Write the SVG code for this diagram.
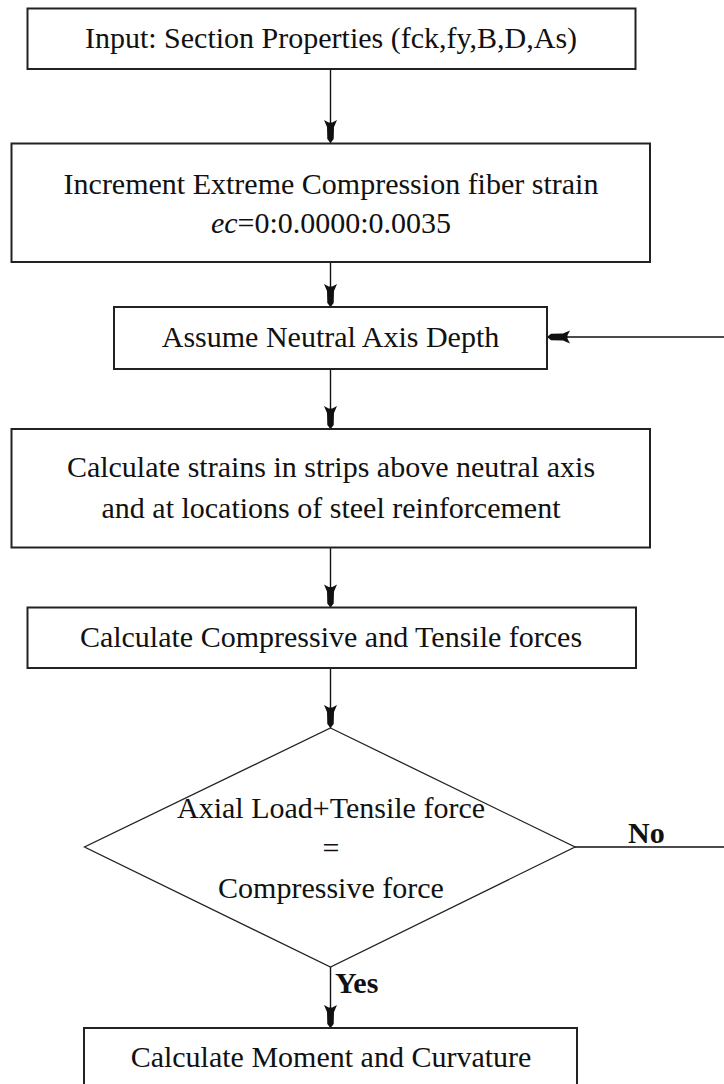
<svg xmlns="http://www.w3.org/2000/svg" width="724" height="1084" viewBox="0 0 724 1084">
<style>
.box{fill:#fff;stroke:#222;stroke-width:2}
.dia{fill:#fff;stroke:#222;stroke-width:1.3}
.t{font-family:"Liberation Serif","Times New Roman",serif;font-size:30px;fill:#111;text-anchor:middle}
.lbl{font-family:"Liberation Serif","Times New Roman",serif;font-size:30px;font-weight:bold;fill:#111}
.c{fill:none;stroke:#111;stroke-width:1.4}
</style>
<defs>
<marker id="ah" markerUnits="userSpaceOnUse" viewBox="-24 -8 25 16" refX="0" refY="0" markerWidth="25" markerHeight="16" orient="auto">
<path d="M0,0 L-4,-3.2 L-16,-3.5 L-23,-6.5 L-20.5,-1.8 L-20.5,1.8 L-23,6.5 L-16,3.5 L-4,3.2 Z" fill="#111"/>
</marker>
</defs>
<rect width="724" height="1084" fill="#fff"/>
<g id="connectors">
<path class="c" d="M330.5,69 V143" marker-end="url(#ah)"/>
<path class="c" d="M330.5,262 V307" marker-end="url(#ah)"/>
<path class="c" d="M330.5,369 V429" marker-end="url(#ah)"/>
<path class="c" d="M330.5,547.5 V607.5" marker-end="url(#ah)"/>
<path class="c" d="M330.5,668 V728" marker-end="url(#ah)"/>
<path class="c" d="M330.5,967 V1028" marker-end="url(#ah)"/>
<path class="c" d="M575,847 H732 V337 H547" marker-end="url(#ah)"/>
</g>
<g id="n1">
<rect class="box" x="27.5" y="8.5" width="608" height="60.5"/>
<text class="t" x="331" y="48">Input: Section Properties (fck,fy,B,D,As)</text>
</g>
<g id="n2">
<rect class="box" x="11.5" y="143.5" width="638.5" height="118.5"/>
<text class="t" x="331" y="193.5">Increment Extreme Compression fiber strain</text>
<text class="t" x="331" y="233"><tspan font-style="italic">ec</tspan>=0:0.0000:0.0035</text>
</g>
<g id="n3">
<rect class="box" x="114" y="307" width="433" height="62"/>
<text class="t" x="330.5" y="347">Assume Neutral Axis Depth</text>
</g>
<g id="n4">
<rect class="box" x="11.5" y="429" width="638.5" height="118.5"/>
<text class="t" x="331" y="477">Calculate strains in strips above neutral axis</text>
<text class="t" x="331" y="518">and at locations of steel reinforcement</text>
</g>
<g id="n5">
<rect class="box" x="27.5" y="607.5" width="608.5" height="60.5"/>
<text class="t" x="331" y="647">Calculate Compressive and Tensile forces</text>
</g>
<g id="n6">
<polygon class="dia" points="330.5,728 575,847 330.5,967 84.5,847"/>
<text class="t" x="331" y="818">Axial Load+Tensile force</text>
<text class="t" x="331" y="858">=</text>
<text class="t" x="331" y="898">Compressive force</text>
</g>
<g id="n7">
<rect class="box" x="84" y="1028" width="493" height="80"/>
<text class="t" x="331" y="1066.5">Calculate Moment and Curvature</text>
</g>
<g id="labels">
<text class="lbl" x="335" y="993">Yes</text>
<text class="lbl" x="628" y="843">No</text>
</g>
</svg>
